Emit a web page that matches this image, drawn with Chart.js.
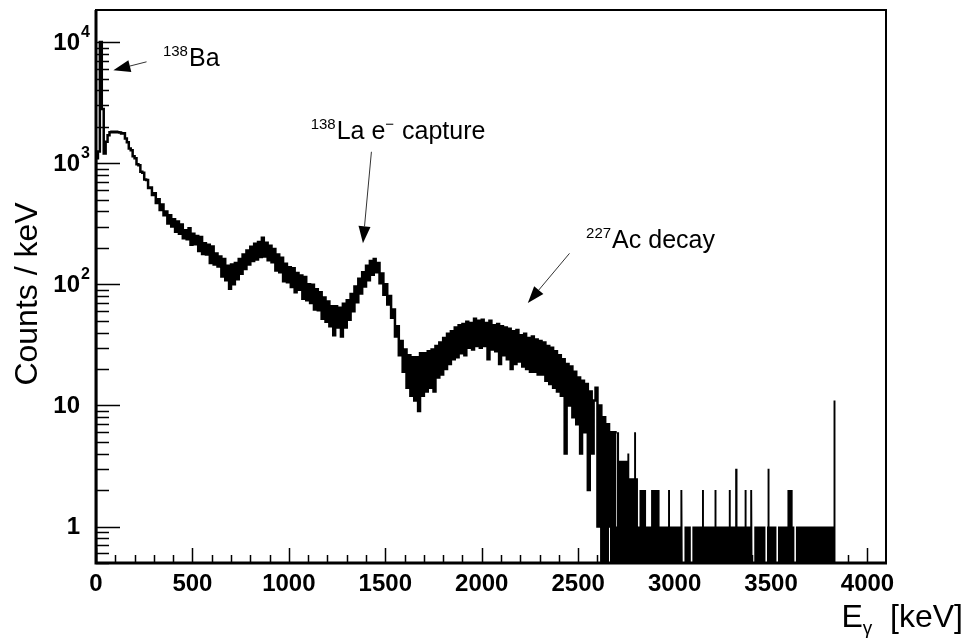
<!DOCTYPE html>
<html><head><meta charset="utf-8">
<script src="https://cdn.jsdelivr.net/npm/chart.js@4.4.1/dist/chart.umd.min.js"></script>
<style>html,body{margin:0;padding:0;background:#fff;}#wrap{width:966px;height:640px;position:relative;}</style>
</head><body><div id="wrap"><canvas id="c" width="966" height="640"></canvas></div>
<script>
// ---- data ----
const BIN_START = 0;      // keV
const BIN_WIDTH = 10;     // keV
// counts / keV per 10 keV bin, 0 ... 2700 keV
const bandCounts = [
  1100, 1250, 10000, 2800, 1200, 1500, 1700, 1800, 1820, 1800,
  1820, 1800, 1790, 1760, 1770, 1600, 1490, 1320, 1280, 1140,
  1100, 980, 960, 850, 835, 735, 725, 625, 630, 545,
  565, 470, 505, 410, 455, 372, 400, 318, 372, 300,
  345, 272, 330, 262, 312, 240, 280, 236, 290, 212,
  262, 214, 250, 188, 246, 178, 218, 176, 212, 150,
  205, 146, 180, 140, 170, 116, 162, 108, 142, 92,
  146, 100, 150, 110, 162, 122, 176, 134, 190, 146,
  204, 156, 216, 160, 224, 168, 242, 170, 220, 158,
  208, 152, 196, 130, 176, 126, 166, 106, 148, 104,
  138, 95, 136, 86, 124, 90, 118, 76, 115, 74,
  100, 70, 99, 62, 91, 61, 86, 52, 78, 49,
  72, 45, 66, 38, 66, 44, 64, 37, 69, 44,
  74, 51, 83, 60, 96, 71, 111, 84, 126, 96,
  142, 108, 156, 120, 162, 126, 150, 102, 123, 82,
  100, 68, 80, 53, 62, 37, 45, 26, 34, 19,
  29, 14, 26, 12, 25, 11, 25, 9, 27, 12,
  27, 13, 28, 14, 29, 13, 31, 17, 33, 18,
  36, 20, 39, 22, 41, 24, 44, 25, 46, 27,
  47, 26, 49, 30, 48, 29, 52, 31, 50, 30,
  51, 31, 48, 24, 50, 29, 46, 28, 47, 22,
  45, 26, 44, 24, 43, 20, 41, 22, 42, 23,
  38, 21, 39, 20, 36, 19, 37, 19, 35, 18,
  34, 18, 33, 16, 31, 15, 30, 14, 28, 13,
  26, 12, 24, 4, 22, 10, 21, 8, 19, 7,
  17, 4, 16, 6, 15, 2, 13, 4, 11, 14,
  1, 10, 0, 8, 0, 7, 1, 6, 0, 6
];
// high-energy tail: [from keV, to keV, counts / keV]
const tailSegments = [
  [2640, 2660, 1], [2660, 2665, 0], [2665, 2676, 1], [2676, 2682, 0], [2682, 2700, 1],
  [2700, 2712, 6], [2712, 2755, 3.5], [2755, 2765, 4], [2765, 2790, 2.5], [2790, 2800, 6],
  [2800, 2810, 2.5], [2810, 2818, 1], [2818, 2852, 2], [2852, 2878, 1], [2878, 2922, 2],
  [2922, 2966, 1], [2966, 2976, 2], [2976, 3030, 1], [3030, 3040, 2], [3040, 3043, 1],
  [3043, 3051, 0], [3051, 3084, 1], [3084, 3092, 0], [3092, 3142, 1], [3142, 3152, 2],
  [3152, 3207, 1], [3207, 3217, 2], [3217, 3281, 1], [3281, 3291, 2], [3291, 3314, 1],
  [3314, 3326, 3], [3326, 3363, 1], [3363, 3373, 2], [3373, 3392, 1], [3392, 3402, 2],
  [3402, 3405, 1], [3405, 3413, 0], [3413, 3471, 1], [3471, 3479, 0], [3479, 3482, 1],
  [3482, 3492, 3], [3492, 3528, 1], [3528, 3536, 0], [3536, 3585, 1], [3585, 3612, 2],
  [3612, 3621, 1], [3621, 3629, 0], [3629, 3824, 1], [3824, 3834, 11], [3834, 4096, 0]
];
const xMajorTicks = [0, 500, 1000, 1500, 2000, 2500, 3000, 3500, 4000];
const yMajorTicks = [1, 10, 100, 1000, 10000];
const yTickLabels = [["1", ""], ["10", ""], ["10", "2"], ["10", "3"], ["10", "4"]];
const X_MIN = 0, X_MAX = 4096, Y_MIN = 0.5, Y_MAX = 18400;
const yAxisTitle = "Counts / keV";
const xAxisTitle = [["E", 0], ["\u03b3", -1], ["  [keV]", 0]];
// annotations in data coordinates (keV, counts/keV)
const annotationTexts = [
  { at: [347, 6325], parts: [["138", 1], ["Ba", 0]] },
  { at: [1113, 1571], parts: [["138", 1], ["La e", 0], ["\u2212", 1], [" capture", 0]] },
  { at: [2541, 198], parts: [["227", 1], ["Ac decay", 0]] }
];
const annotationArrows = [
  { from: [262, 6870], to: [90, 5850] },
  { from: [1428, 1242], to: [1384, 218] },
  { from: [2455, 180], to: [2239, 70] }
];

// ---- build datasets ----
function bandPoints() {
  const pts = [{ x: BIN_START, y: Y_MIN }];
  bandCounts.forEach((c, i) => {
    const v = c > 0 ? c : Y_MIN;
    pts.push({ x: BIN_START + i * BIN_WIDTH, y: v });
    pts.push({ x: BIN_START + (i + 1) * BIN_WIDTH, y: v });
  });
  return pts;
}
function tailPoints() {
  const pts = [];
  tailSegments.forEach(([a, b, c]) => {
    const v = c > 0 ? c : Y_MIN;
    pts.push({ x: a, y: v });
    pts.push({ x: b, y: v });
  });
  return pts;
}

const FONT = "'Liberation Sans', Arial, Helvetica, sans-serif";

const rootStyle = {
  id: 'rootStyle',
  afterDraw(chart) {
    const ctx = chart.ctx;
    const xs = chart.scales.x, ys = chart.scales.y;
    const a = chart.chartArea;
    ctx.save();
    ctx.strokeStyle = '#000';
    ctx.fillStyle = '#000';
    // ticks inside frame
    ctx.lineWidth = 1.5;
    ctx.beginPath();
    for (let v = X_MIN; v <= X_MAX; v += 100) {
      const px = Math.round(xs.getPixelForValue(v)) + 0.5;
      const len = (v % 500 === 0) ? 15 : 8;
      ctx.moveTo(px, a.bottom); ctx.lineTo(px, a.bottom - len);
    }
    for (let d = 0.1; d <= 10000; d *= 10) {
      for (let m = 1; m <= 9; m++) {
        const v = d * m;
        if (v < Y_MIN || v > Y_MAX) continue;
        const py = Math.round(ys.getPixelForValue(v)) + 0.5;
        const len = (m === 1) ? 24 : 13;
        ctx.moveTo(a.left, py); ctx.lineTo(a.left + len, py);
      }
    }
    ctx.stroke();
    // frame
    ctx.lineWidth = 2;
    ctx.strokeRect(a.left, a.top, a.right - a.left, a.bottom - a.top);
    ctx.lineWidth = 3;
    ctx.beginPath();
    ctx.moveTo(a.left, a.top); ctx.lineTo(a.left, a.bottom + 1.5);
    ctx.moveTo(a.left - 1.5, a.bottom); ctx.lineTo(a.right + 1, a.bottom);
    ctx.stroke();
    // y tick labels
    ctx.textBaseline = 'middle';
    yMajorTicks.forEach((v, i) => {
      const py = ys.getPixelForValue(v);
      const [base, sup] = yTickLabels[i];
      ctx.font = 'bold 24px ' + FONT;
      ctx.textAlign = 'right';
      const rx = a.left - 16;
      ctx.fillText(base, rx, py + 1);
      if (sup) {
        ctx.font = 'bold 16px ' + FONT;
        ctx.textAlign = 'left';
        ctx.textBaseline = 'alphabetic';
        ctx.fillText(sup, rx + 1, py - 5);
        ctx.textBaseline = 'middle';
      }
    });
    // axis titles
    ctx.font = '32px ' + FONT;
    ctx.textAlign = 'center';
    ctx.textBaseline = 'middle';
    ctx.save();
    ctx.translate(28, 294);
    ctx.rotate(-Math.PI / 2);
    ctx.fillText(yAxisTitle, 0, 0);
    ctx.restore();
    // x title, right aligned
    ctx.textBaseline = 'alphabetic';
    ctx.textAlign = 'left';
    const fx = s => (s ? '19px ' : '32px ') + FONT;
    const widths = xAxisTitle.map(([t, s]) => { ctx.font = fx(s); return ctx.measureText(t).width; });
    let x0 = 963 - widths.reduce((p, q) => p + q, 0);
    xAxisTitle.forEach(([t, s], i) => {
      ctx.font = fx(s);
      ctx.fillText(t, x0, s ? 634 : 627);
      x0 += widths[i];
    });
    // arrows
    annotationArrows.forEach(ar => {
      const x1 = xs.getPixelForValue(ar.from[0]), y1 = ys.getPixelForValue(ar.from[1]);
      const x2 = xs.getPixelForValue(ar.to[0]), y2 = ys.getPixelForValue(ar.to[1]);
      const ang = Math.atan2(y2 - y1, x2 - x1);
      const L = 17, W = 6;
      const bx = x2 - L * Math.cos(ang), by = y2 - L * Math.sin(ang);
      ctx.strokeStyle = '#333';
      ctx.lineWidth = 1;
      ctx.beginPath(); ctx.moveTo(x1, y1); ctx.lineTo(bx, by); ctx.stroke();
      ctx.beginPath();
      ctx.moveTo(x2, y2);
      ctx.lineTo(bx + W * Math.sin(ang), by - W * Math.cos(ang));
      ctx.lineTo(bx - W * Math.sin(ang), by + W * Math.cos(ang));
      ctx.closePath(); ctx.fillStyle = '#000'; ctx.fill();
    });
    // annotation texts
    ctx.fillStyle = '#000';
    ctx.textAlign = 'left';
    ctx.textBaseline = 'alphabetic';
    annotationTexts.forEach(an => {
      let x = xs.getPixelForValue(an.at[0]);
      const y = ys.getPixelForValue(an.at[1]);
      an.parts.forEach(([t, s]) => {
        ctx.font = (s ? '15px ' : '25px ') + FONT;
        ctx.fillText(t, x, s ? y - 10 : y);
        x += ctx.measureText(t).width + (s ? 1 : 0);
      });
    });
    ctx.restore();
  }
};

new Chart(document.getElementById('c'), {
  type: 'line',
  data: {
    datasets: [
      {
        data: tailPoints(),
        borderWidth: 0,
        borderColor: '#000',
        backgroundColor: '#000',
        fill: 'start',
        pointRadius: 0,
        tension: 0
      },
      {
        data: bandPoints(),
        borderColor: '#000',
        borderWidth: 2.5,
        fill: false,
        pointRadius: 0,
        tension: 0
      }
    ]
  },
  options: {
    responsive: false,
    animation: false,
    devicePixelRatio: 1,
    layout: { padding: { top: 10, right: 80, left: 0, bottom: 0 } },
    plugins: { legend: { display: false }, tooltip: { enabled: false } },
    scales: {
      x: {
        type: 'linear', min: X_MIN, max: X_MAX,
        grid: { display: false, drawTicks: false },
        border: { display: false },
        afterBuildTicks: s => { s.ticks = xMajorTicks.map(v => ({ value: v })); },
        ticks: {
          autoSkip: false, maxRotation: 0,
          padding: 7, color: '#000',
          font: { family: FONT, size: 24, weight: 'bold' },
          callback: v => String(v)
        },
        afterFit: s => { s.height = 77; }
      },
      y: {
        type: 'logarithmic', min: Y_MIN, max: Y_MAX,
        grid: { display: false, drawTicks: false },
        border: { display: false },
        ticks: { display: false },
        afterFit: s => { s.width = 96; }
      }
    }
  },
  plugins: [rootStyle]
});
</script>
</body></html>
